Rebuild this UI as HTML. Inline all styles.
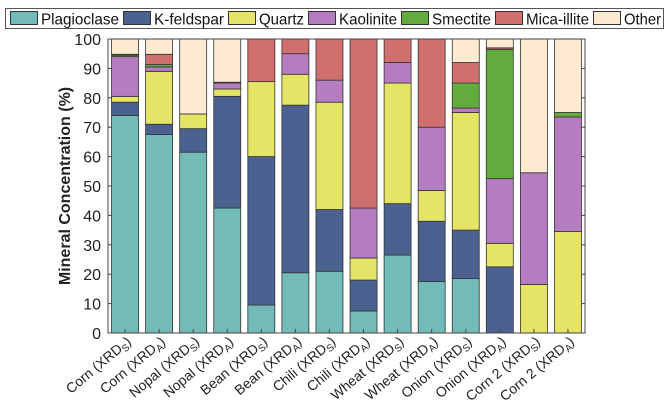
<!DOCTYPE html>
<html><head><meta charset="utf-8"><style>
body{margin:0;background:#fff;width:672px;height:406px;overflow:hidden}
text{font-family:"Liberation Sans",Arial,sans-serif}
</style></head><body>
<svg id="chart" width="672" height="406" xmlns="http://www.w3.org/2000/svg">
<g id="legend"></g>
<g id="bars"></g>
<g id="axes"></g>
<text transform="translate(70,186) rotate(-90)" text-anchor="middle" font-size="16" font-weight="bold" fill="#222">Mineral Concentration (%)</text>
</svg>
<script>
const categories=["Corn|S","Corn|A","Nopal|S","Nopal|A","Bean|S","Bean|A","Chili|S","Chili|A","Wheat|S","Wheat|A","Onion|S","Onion|A","Corn 2|S","Corn 2|A"];
const seriesNames=["Plagioclase","K-feldspar","Quartz","Kaolinite","Smectite","Mica-illite","Other"];
const plagioclase=[74,67.5,61.5,42.5,9.5,20.5,21,7.5,26.5,17.5,18.5,0,0,0];
const kfeldspar=[4.5,3.5,8,38,50.5,57,21,10.5,17.5,20.5,16.5,22.5,0,0];
const quartz=[2,18,5,2.5,25.5,10.5,36.5,7.5,41,10.5,40,8,16.5,34.5];
const kaolinite=[13.5,1.5,0,2,0,7,7.5,17,7,21.5,1.5,22,38,39];
const smectite=[0.5,0.8,0,0,0,0,0,0,0,0,8.5,44,0,1.5];
const micaillite=[0.3,3.5,0,0.3,14.5,5,14,57.5,8,30,7,0.5,0,0];
const other=[5.2,5.2,25.5,14.7,0,0,0,0,0,0,8,3,45.5,25];
const yTicks=[0,10,20,30,40,50,60,70,80,90,100];
const colors=["#72bbb9","#4b6291","#e4e466","#b57dc0","#62ac3d","#cf706f","#fdead0"];
const series=[plagioclase,kfeldspar,quartz,kaolinite,smectite,micaillite,other];
const NS="http://www.w3.org/2000/svg";
const X0=108,X1=585,Y0=333,Y1=39;
const pitch=(X1-X0)/categories.length, bw=27;
const y=v=>Y0-(v/100)*(Y0-Y1);
const xc=i=>X0+pitch*(i+0.5);
function mk(t,a,p){const e=document.createElementNS(NS,t);for(const k in a)e.setAttribute(k,a[k]);p.appendChild(e);return e;}
const bars=document.getElementById('bars');
categories.forEach((c,i)=>{
  let cum=0;
  series.forEach((s,j)=>{
    const v=s[i]; if(v<=0)return;
    const top=Math.min(100,cum+v);
    const r=mk('rect',{x:xc(i)-bw/2,y:y(top),width:bw,height:y(cum)-y(top),fill:colors[j],stroke:'#333','stroke-width':0.8},bars);
    
    
    cum=top;
  });
});
const ax=document.getElementById('axes');
const fr=mk('rect',{x:X0,y:Y1,width:X1-X0,height:Y0-Y1,fill:'none',stroke:'#444','stroke-width':1},ax);


yTicks.forEach(t=>{
  mk('line',{x1:X0,x2:X0+4,y1:y(t),y2:y(t),stroke:'#444'},ax);
  mk('line',{x1:X1,x2:X1-4,y1:y(t),y2:y(t),stroke:'#444'},ax);
  const tx=mk('text',{x:X0-7,y:y(t)+6,'text-anchor':'end','font-size':16,fill:'#222'},ax);
  tx.textContent=t;
  
  
});
categories.forEach((c,i)=>{
  const [n,s]=c.split('|');
  mk('line',{x1:xc(i),x2:xc(i),y1:Y0,y2:Y0-4,stroke:'#444'},ax);
  const tx=mk('text',{transform:`translate(${xc(i)+7},${Y0+10}) rotate(-40)`,'text-anchor':'end','font-size':14,fill:'#222'},ax);
  
  
  tx.innerHTML=n+' (XRD<tspan font-size="10" dy="3">'+s+'</tspan><tspan dy="-3">)</tspan>';
});
const lg=document.getElementById('legend');
const lb=mk('rect',{x:5.5,y:8.5,width:658,height:20,fill:'#fff',stroke:'#555'},lg);


const legendX=[10,123,228,308,401,495,593];
seriesNames.forEach((n,j)=>{
  const g=mk('g',{},lg);
  
  
  const px=legendX[j];
  const next=j<6?legendX[j+1]:665;
  mk('rect',{x:px+0.5,y:11.5,width:27,height:13,fill:colors[j],stroke:'#333'},g);
  const t=mk('text',{x:px+31,y:24.5,'font-size':16,fill:'#111',textLength:next-px-35,lengthAdjust:'spacingAndGlyphs'},g);
  t.textContent=n;
});
</script>
</body></html>
